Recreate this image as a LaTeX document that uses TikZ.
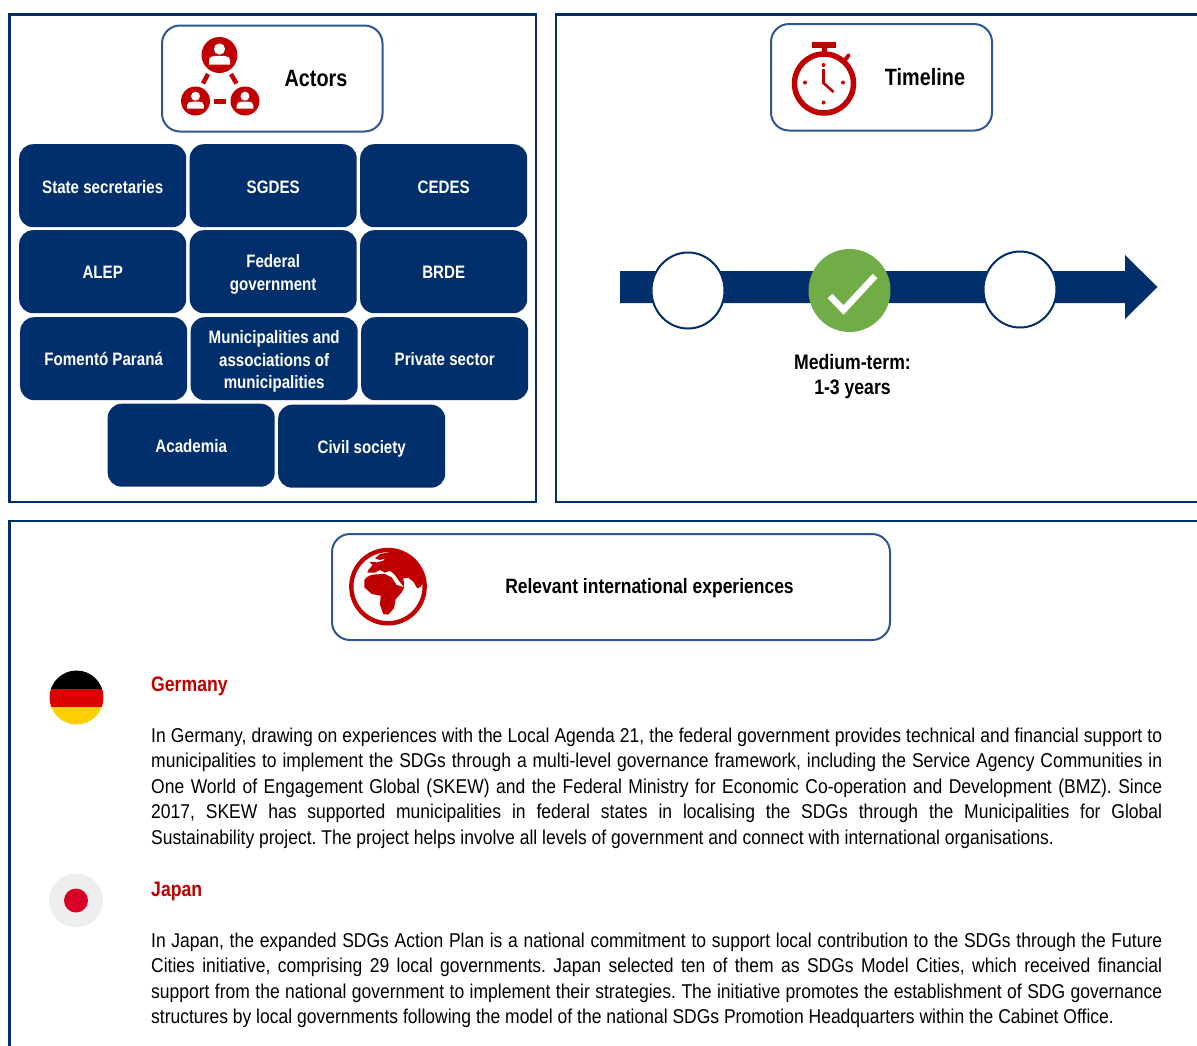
\documentclass[tikz,border=0pt]{standalone}
\usepackage{fontspec}
\setmainfont[FakeStretch=0.84]{Liberation Sans}
\newfontfamily\bodyfont[FakeStretch=0.875]{Liberation Sans}
\definecolor{navy}{HTML}{002F6C}
\definecolor{hdr}{HTML}{2F5597}
\definecolor{redi}{HTML}{C00000}
\definecolor{greeni}{HTML}{70AD47}
\definecolor{flagred}{HTML}{DD0000}
\definecolor{flaggold}{HTML}{FFCE00}
\definecolor{jpred}{HTML}{D80027}
\definecolor{jpgrey}{HTML}{EEEEF0}
\tikzset{
 frame/.style={draw=navy,line width=2.4pt,fill=white},
 hdrbox/.style={draw=hdr,line width=2pt,fill=white,rounded corners=18pt},
 actor/.style={fill=navy,draw=none,rounded corners=14pt,minimum width=167pt,minimum height=83pt,anchor=north west,inner sep=0pt},
 atext/.style={text=white,font=\fontsize{18}{22.8}\selectfont\bfseries,align=center,inner sep=0pt},
 title/.style={font=\fontsize{23.6}{28}\selectfont\bfseries,inner sep=0pt},
 ctitle/.style={font=\fontsize{21}{25}\selectfont\bfseries,text=redi,anchor=base west,inner sep=0pt},
 bodyline/.style={font=\bodyfont\fontsize{20}{24}\selectfont\frenchspacing,anchor=base west,inner sep=0pt},
 ringc/.style={draw=navy,line width=2pt,fill=white},
 reddash/.style={draw=redi,line width=4.5pt}
}
\newcommand{\bl}[1]{\makebox[1011pt][s]{#1}}
\newcommand{\actorbox}[5]{% name x y textshift text
 \node[actor] (#1) at (#2,#3) {};
 \node[atext] (#1t) at ([yshift=-#4pt]#1.center) {#5};}
\newcommand{\personicon}[3]{% x y scale
 \begin{scope}[shift={(#1,#2)},scale=#3]
 \fill[white] (0,-6) circle (5.6);
 \fill[white] (-10.5,9.5) -- (-10.5,5.5) .. controls (-10.5,2) and (-7,0.8) .. (-4,0.8) -- (4,0.8) .. controls (7,0.8) and (10.5,2) .. (10.5,5.5) -- (10.5,9.5) -- cycle;
 \end{scope}}
\begin{document}
\begin{tikzpicture}[x=1pt,y=-1pt]
\useasboundingbox (0,0) rectangle (1197,1045);
\fill[white] (0,0) rectangle (1197,1045);
% frames
\draw[frame] (9.5,14.5) rectangle (536,502);
\draw[frame] (556,14.5) rectangle (1210,502);
\draw[frame] (9.5,521) rectangle (1210,1060);
% headers
\draw[hdrbox] (162,25.5) rectangle (382.5,131.5);
\draw[hdrbox] (771,24) rectangle (992,130.5);
\draw[hdrbox] (332,534) rectangle (890,640);
\node[title] (tactors) at (316,78.5) {Actors};
\node[title] (ttime) at (925,77.5) {Timeline};
\node[font=\fontsize{20.8}{25}\selectfont\bfseries,inner sep=0pt] (tintl) at (649.5,588.5) {Relevant international experiences};
% actors icon
\fill[redi] (219.5,55) circle (18);
\fill[redi] (195.5,101) circle (14.5);
\fill[redi] (245,101) circle (14.5);
\personicon{219.5}{55}{1}
\personicon{195.5}{101}{0.8}
\personicon{245}{101}{0.8}
\draw[reddash] (208,74) -- (203,83.5);
\draw[reddash] (231,74) -- (236.5,83.5);
\draw[reddash] (214,101.5) -- (226,101.5);
% actor boxes
\actorbox{a1}{19}{144}{1}{State secretaries}
\actorbox{a2}{189.5}{144}{1.5}{SGDES}
\actorbox{a3}{360}{144}{1.5}{CEDES}
\actorbox{a4}{19}{230}{1}{ALEP}
\actorbox{a5}{189.5}{230}{3}{Federal\\government}
\actorbox{a6}{360}{230}{1}{BRDE}
\actorbox{a7}{20}{317}{0}{Fomentó Paraná}
\actorbox{a8}{190.5}{317}{2.7}{Municipalities and\\associations of\\municipalities}
\actorbox{a9}{361}{317}{0}{Private sector}
\actorbox{a10}{107.5}{403.5}{1}{Academia}
\actorbox{a11}{278}{404.5}{3}{Civil society}
% stopwatch
\draw[redi,line width=5.5pt] (824,83.5) circle (29.5);
\fill[redi] (812,42) rectangle (836,48);
\fill[redi] (821.5,48) rectangle (826.5,53);
\draw[redi,line width=4pt,line cap=round] (845,60) -- (848.5,55.5);
\draw[redi,line width=2.6pt] (823.5,69) -- (823.5,83) -- (833.5,92);
\foreach \p in {(823.5,65),(805,82.5),(843,82.5),(823.5,102.5)} \fill[redi] \p circle (2);
% timeline
\fill[navy] (620,271) -- (1125,271) -- (1125,255) -- (1157.5,287) -- (1125,319) -- (1125,303) -- (620,303) -- cycle;
\draw[ringc] (688,290.5) ellipse (36.5 and 38);
\draw[ringc] (1020,289.5) ellipse (36.5 and 38);
\fill[greeni] (849.5,290.5) ellipse (41 and 41.5);
\draw[white,line width=6.5pt] (830,296) -- (843.5,310) -- (875,276);
\node[font=\fontsize{21}{25.5}\selectfont\bfseries,align=center,inner sep=0pt] (tmed) at (852.5,376.5) {Medium-term:\\1-3 years};
% globe
\begin{scope}[shift={(330,530)},scale=0.3333]
 \draw[redi,line width=4.4pt] (174,170) circle (110);
 \fill[redi] (103,150) .. controls (110,138) and (125,133) .. (140,133) -- (165,132) -- (185,142) -- (200,165) -- (223,172) -- (215,187) -- (197,208) -- (192,235) -- (175,254) -- (160,252) -- (150,225) -- (152,197) -- (125,192) -- (103,172) -- cycle;
 \begin{scope}
 \clip (174,170) circle (110);
 \fill[redi] (180,66) -- (150,72) -- (135,85) -- (150,90) -- (165,85) -- (160,92) -- (140,97) -- (118,95) -- (128,105) -- (115,120) -- (112,128) -- (135,128) -- (150,120) -- (165,128) -- (180,122) -- (195,135) -- (205,150) -- (222,172) -- (222,160) -- (220,145) -- (235,143) -- (250,155) -- (262,175) -- (272,170) -- (285,150) -- (310,100) -- (230,40) -- cycle;
 \end{scope}
\end{scope}
% flags
\begin{scope}
 \clip (76.5,697.5) circle (27);
 \fill[black] (49,670) rectangle (104,689);
 \fill[flagred] (49,689) rectangle (104,707);
 \fill[flaggold] (49,707) rectangle (104,725);
\end{scope}
\fill[jpgrey] (76,900.5) circle (27);
\fill[jpred] (76,900.5) circle (12);
% text
\node[ctitle] (de) at (151,691) {Germany};
\node[bodyline] (d1) at (151,742) {\bl{In Germany, drawing on experiences with the Local Agenda 21, the federal government provides technical and financial support to}};
\node[bodyline] (d2) at (151,767.5) {\bl{municipalities to implement the SDGs through a multi-level governance framework, including the Service Agency Communities in}};
\node[bodyline] (d3) at (151,793) {\bl{One World of Engagement Global (SKEW) and the Federal Ministry for Economic Co-operation and Development (BMZ). Since}};
\node[bodyline] (d4) at (151,818.5) {\bl{2017, SKEW has supported municipalities in federal states in localising the SDGs through the Municipalities for Global}};
\node[bodyline] (d5) at (151,844) {Sustainability project. The project helps involve all levels of government and connect with international organisations.};
\node[ctitle] (jp) at (151,896) {Japan};
\node[bodyline] (j1) at (151,947) {\bl{In Japan, the expanded SDGs Action Plan is a national commitment to support local contribution to the SDGs through the Future}};
\node[bodyline] (j2) at (151,972.5) {\bl{Cities initiative, comprising 29 local governments. Japan selected ten of them as SDGs Model Cities, which received financial}};
\node[bodyline] (j3) at (151,998) {\bl{support from the national government to implement their strategies. The initiative promotes the establishment of SDG governance}};
\node[bodyline] (j4) at (151,1023.5) {structures by local governments following the model of the national SDGs Promotion Headquarters within the Cabinet Office.};
\end{tikzpicture}
\end{document}
